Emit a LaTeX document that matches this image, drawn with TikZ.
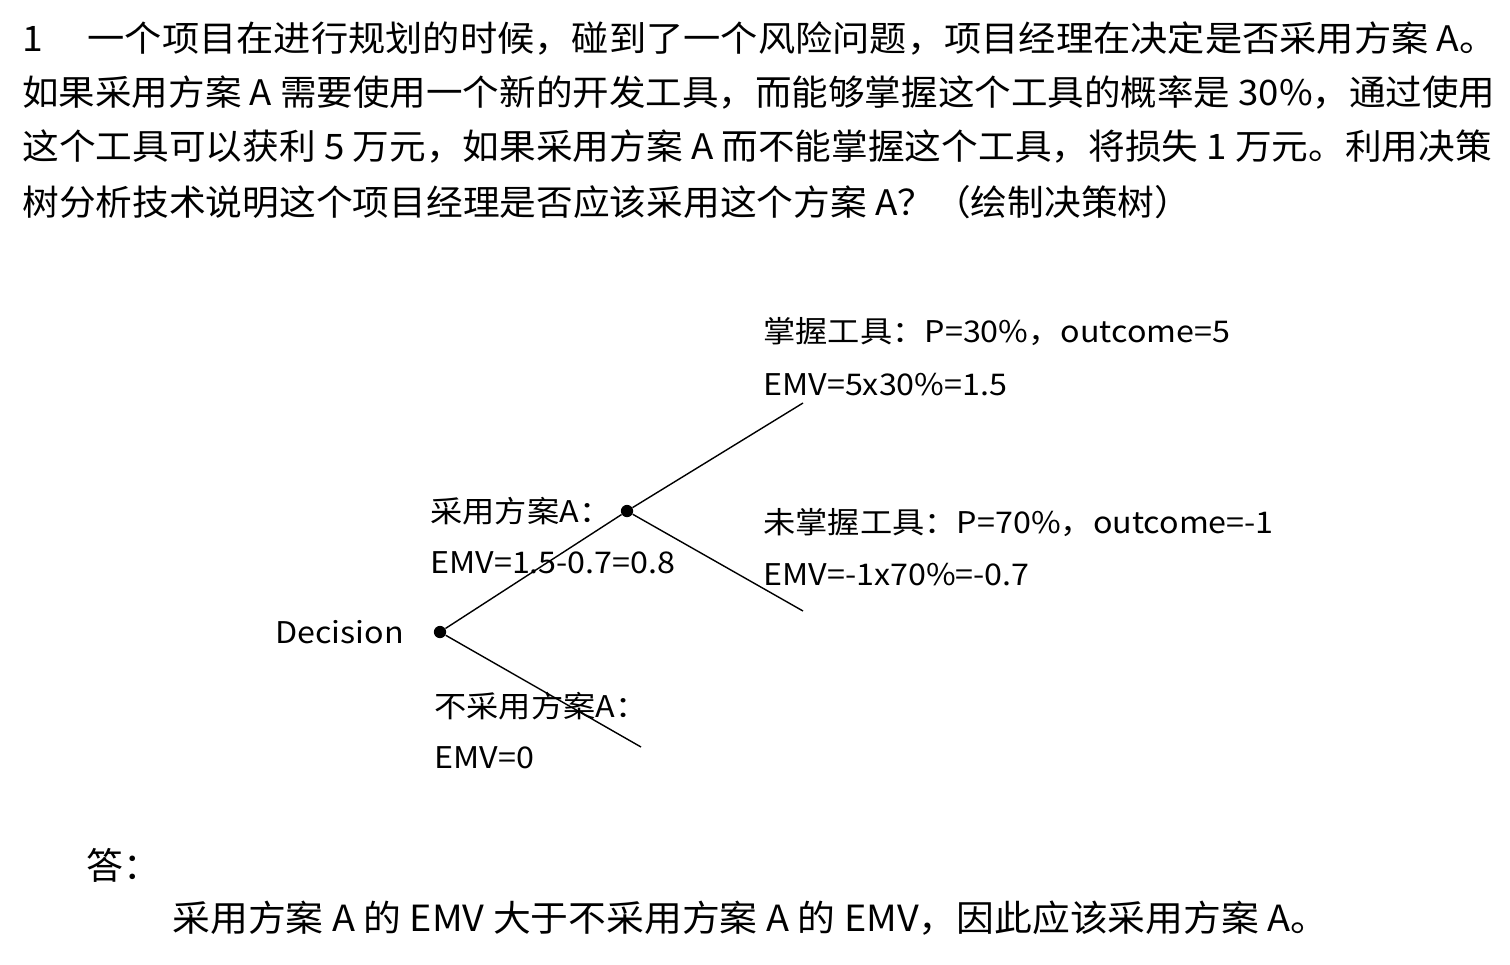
\documentclass[tikz,border=0pt]{standalone}
\usepackage{fontspec}
\setmainfont{Noto Sans CJK SC}
\newfontfamily\cjk{Noto Sans CJK SC}
\begin{document}
\begin{tikzpicture}[x=0.02cm,y=-0.02cm,
  hdr/.style={anchor=west,inner sep=0,font=\fontsize{20}{24}\selectfont},
  lbl/.style={anchor=west,inner sep=0,xscale=1.08,font=\fontsize{17}{20}\selectfont},
  br/.style={line width=0.8pt},
  dot/.style={circle,fill=black,inner sep=0,minimum size=7pt}]
\useasboundingbox (0,0) rectangle (1510,964);
\node[hdr,xscale=1.06] (l1) at (22,38) {1\hspace{1.2em}一个项目在进行规划的时候，碰到了一个风险问题，项目经理在决定是否采用方案 A。};
\node[hdr,xscale=1.04] (l2) at (22,92) {如果采用方案 A 需要使用一个新的开发工具，而能够掌握这个工具的概率是 30\%，通过使用};
\node[hdr,xscale=1.044] (l3) at (22,147) {这个工具可以获利 5 万元，如果采用方案 A 而不能掌握这个工具，将损失 1 万元。利用决策};
\node[hdr,xscale=1.045] (l4) at (22,202) {树分析技术说明这个项目经理是否应该采用这个方案 A？（绘制决策树）};

\node[dot] (d) at (440,632) {};
\node[dot] (a) at (627,511) {};
\coordinate (u) at (803,403);
\coordinate (v) at (803,611);
\coordinate (n) at (641,747);
\draw[br] (d) -- (a); \draw[br] (a) -- (u); \draw[br] (a) -- (v); \draw[br] (d) -- (n);

\node[lbl] (t1) at (275,632) {Decision};
\node[lbl] (t2) at (430,511) {采用方案A：};
\node[lbl] (t3) at (430,563) {EMV=1.5-0.7=0.8};
\node[lbl] (t4) at (763,332) {掌握工具：P=30\%，outcome=5};
\node[lbl] (t5) at (763,385) {EMV=5x30\%=1.5};
\node[lbl] (t6) at (763,523) {未掌握工具：P=70\%，outcome=-1};
\node[lbl] (t7) at (763,575) {EMV=-1x70\%=-0.7};
\node[lbl] (t8) at (434,706) {不采用方案A：};
\node[lbl] (t9) at (434,758) {EMV=0};

\node[hdr,font=\fontsize{21}{24}\selectfont] (ans) at (86,865) {答：};
\node[hdr,xscale=1.05,font=\fontsize{20.5}{24}\selectfont] (ans2) at (172,918) {采用方案 A 的 EMV 大于不采用方案 A 的 EMV，因此应该采用方案 A。};
\end{tikzpicture}
\end{document}
